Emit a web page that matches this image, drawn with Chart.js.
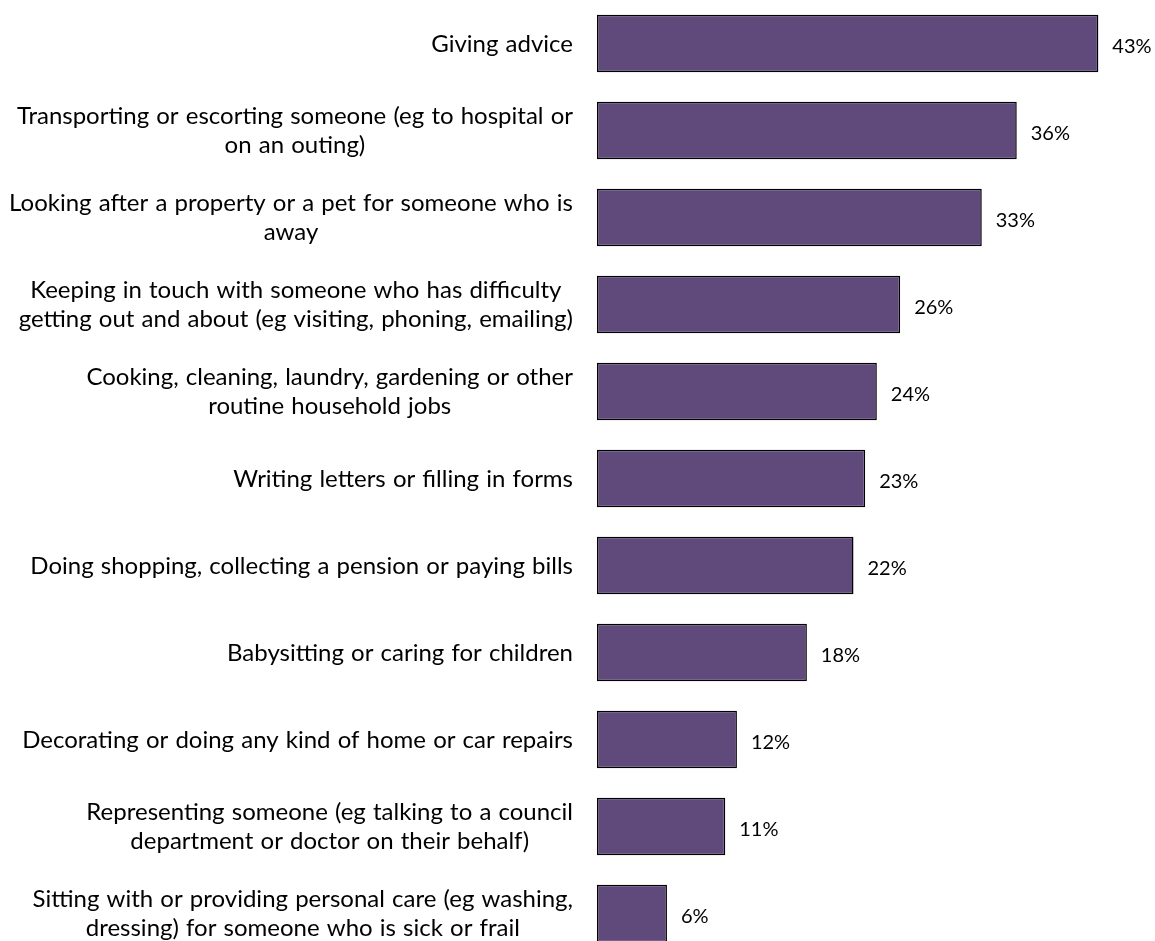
<!DOCTYPE html>
<html>
<head>
<meta charset="utf-8">
<script src="https://cdn.jsdelivr.net/npm/chart.js@4/dist/chart.umd.min.js"></script>
<style>
  html, body { margin: 0; padding: 0; background: #ffffff; overflow: hidden; }
  #wrap { width: 1155px; height: 941px; overflow: hidden; }
  canvas { display: block; }
</style>
</head>
<body>
<div id="wrap"><canvas id="c" width="1155" height="957"></canvas></div>
<script>
// Kinds of help given, share of respondents (%)
const categories = [
  ["Giving advice"],
  ["Transporting or escorting someone (eg to hospital or", "on an outing)"],
  ["Looking after a property or a pet for someone who is", "away"],
  ["Keeping in touch with someone who has difficulty", "getting out and about (eg visiting, phoning, emailing)"],
  ["Cooking, cleaning, laundry, gardening or other", "routine household jobs"],
  ["Writing letters or filling in forms"],
  ["Doing shopping, collecting a pension or paying bills"],
  ["Babysitting or caring for children"],
  ["Decorating or doing any kind of home or car repairs"],
  ["Representing someone (eg talking to a council", "department or doctor on their behalf)"],
  ["Sitting with or providing personal care (eg washing,", "dressing) for someone who is sick or frail"]
];
const values = [43, 36, 33, 26, 24, 23, 22, 18, 12, 11, 6];

const FONT = 'Lato, "Open Sans", sans-serif';
const CAT_SIZE = 24;
const VAL_SIZE = 20;
const LABEL_RIGHT = 573;
const LINE_H = 29;

// Category labels: each block right-aligned against the bars, lines centred within the block
const categoryLabels = {
  id: 'categoryLabels',
  afterDraw(chart) {
    const ctx = chart.ctx;
    const yScale = chart.scales.y;
    ctx.save();
    ctx.font = CAT_SIZE + 'px ' + FONT;
    if ('wordSpacing' in ctx) ctx.wordSpacing = '1px';
    ctx.fillStyle = '#000000';
    ctx.textAlign = 'center';
    ctx.textBaseline = 'alphabetic';
    categories.forEach((lines, i) => {
      const cy = yScale.getPixelForValue(i);
      const blockW = Math.max(...lines.map(l => ctx.measureText(l).width));
      const cx = LABEL_RIGHT - blockW / 2;
      const n = lines.length;
      lines.forEach((line, j) => {
        const lineCenter = cy + (j - (n - 1) / 2) * LINE_H;
        ctx.fillText(line, cx, lineCenter + CAT_SIZE * 0.34);
      });
    });
    ctx.restore();
  }
};

// Percentage labels just past the end of each bar
const valueLabels = {
  id: 'valueLabels',
  afterDatasetsDraw(chart) {
    const ctx = chart.ctx;
    const meta = chart.getDatasetMeta(0);
    ctx.save();
    ctx.font = VAL_SIZE + 'px ' + FONT;
    ctx.fillStyle = '#000000';
    ctx.textAlign = 'left';
    ctx.textBaseline = 'alphabetic';
    meta.data.forEach((bar, i) => {
      ctx.fillText(values[i] + '%', bar.x + 14, bar.y + 2.5 + VAL_SIZE * 0.36);
    });
    ctx.restore();
  }
};

new Chart(document.getElementById('c'), {
  type: 'bar',
  data: {
    labels: categories,
    datasets: [{
      data: values,
      backgroundColor: '#604A7B',
      borderColor: '#000000',
      borderWidth: 1.5,
      borderSkipped: false,
      barPercentage: 0.663,
      categoryPercentage: 1.0
    }]
  },
  options: {
    indexAxis: 'y',
    responsive: false,
    animation: false,
    devicePixelRatio: 1,
    layout: { padding: { left: 597, right: 10, top: 0, bottom: 0 } },
    plugins: { legend: { display: false }, tooltip: { enabled: false } },
    scales: {
      x: { display: false, min: 0, max: 47 },
      y: { display: false }
    }
  },
  plugins: [categoryLabels, valueLabels]
});
</script>
</body>
</html>
